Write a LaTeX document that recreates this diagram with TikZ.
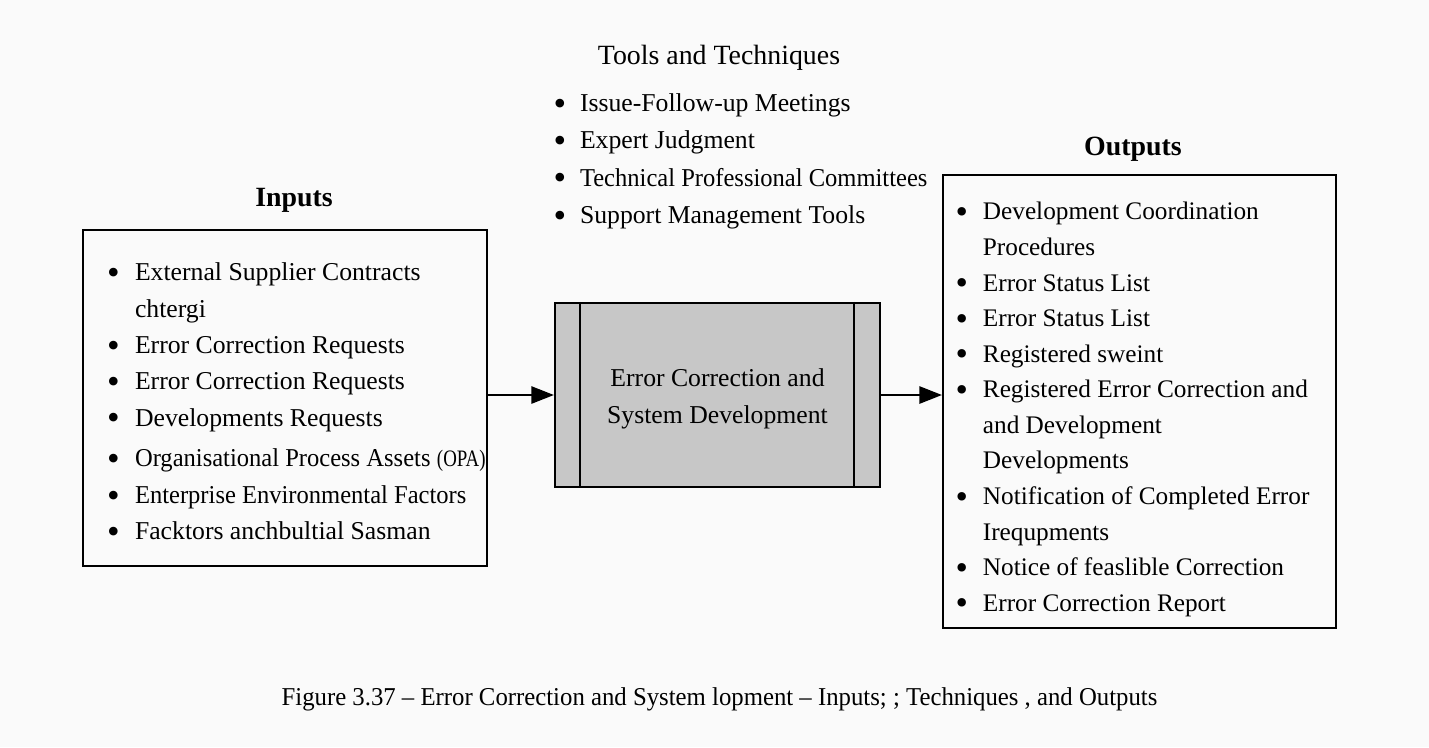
\documentclass[tikz,border=0pt]{standalone}
\usepackage{fontspec}
\usepackage{graphicx}
\setmainfont{Liberation Serif}
\newfontfamily\capfont[FakeStretch=0.963]{Liberation Serif}
\newfontfamily\narrowfont[FakeStretch=0.955]{Liberation Serif}
\newfontfamily\opafont[FakeStretch=0.8]{Liberation Serif}
\newcommand\blt{\raisebox{-1.7pt}{\scalebox{1.4}{\textbullet}}}
\usetikzlibrary{matrix,positioning,calc,arrows.meta}

\begin{document}
\begin{tikzpicture}[x=0.4667pt, y=-0.4667pt,
  itemlist/.style={matrix of nodes, inner sep=0, outer sep=0,
    anchor=north west, column sep=7.2pt, row sep=#1,
    nodes={inner sep=0, anchor=base west, text height=11pt,
      text depth=4pt, font=\fontsize{12}{14}\selectfont}},
  listbox/.style={draw, line width=1pt, inner sep=0},
  title/.style={anchor=base, font=\fontsize{13}{15}\selectfont\bfseries},
  procbox/.style={draw, line width=1pt, fill=black!22,
    minimum width=151.7pt, minimum height=85.9pt},
  flow/.style={line width=1pt, -{Triangle[length=10.5pt,width=8pt]}}]

% page
\fill[black!2] (0,0) rectangle (1429,747);

% tools and techniques
\node (tooltitle) [title, font=\fontsize{13}{15}\selectfont] at (719,64)
  {Tools and Techniques};
\matrix (toollist) [itemlist=2.4pt, column sep=6.4pt] at (553.7,88) {
  \blt & Issue-Follow-up Meetings\\
  \blt & Expert Judgment\\
  \blt & {\narrowfont Technical Professional Committees}\\
  \blt & Support Management Tools\\
};

% inputs
\node (intitle) [title] at (294,206) {Inputs};
\node (inbox) [listbox, minimum width=188.5pt, minimum height=156.8pt]
  at (285,398) {};
\matrix (inlist) [itemlist=2pt] at (107,257) {
  \blt & External Supplier Contracts\\
   & chtergi\\
  \blt & Error Correction Requests\\
  \blt & Error Correction Requests\\
  \blt & Developments Requests\\[2pt]
  \blt & {\narrowfont Organisational Process Assets}
         {\opafont\fontsize{11}{13}\selectfont(OPA)}\\
  \blt & {\narrowfont Enterprise Environmental Factors}\\
  \blt & Facktors anchbultial Sasman\\
};

% process
\node (proc) [procbox] at (717.5,395) {};
\node (proctext) [align=center, font=\fontsize{12}{17.3}\selectfont]
  at ([yshift=-1.9pt]proc.center) {Error Correction and\\System Development};
\draw[line width=1pt] ([xshift=12.1pt]proc.north west)
  -- ([xshift=12.1pt]proc.south west);
\draw[line width=1pt] ([xshift=-12.6pt]proc.north east)
  -- ([xshift=-12.6pt]proc.south east);

% outputs
\node (outtitle) [title] at (1133,155) {Outputs};
\node (outbox) [listbox, minimum width=183.4pt, minimum height=211.4pt]
  at (1139.5,401.5) {};
\matrix (outlist) [itemlist=1.6pt, column sep=6.9pt,
  nodes={font=\fontsize{11.8}{14}\selectfont}] at (955.7,196.4) {
  \blt & Development Coordination\\
   & Procedures\\
  \blt & Error Status List\\
  \blt & Error Status List\\
  \blt & Registered sweint\\
  \blt & Registered Error Correction and\\
   & and Development\\
   & Developments\\
  \blt & Notification of Completed Error\\
   & Irequpments\\
  \blt & Notice of feaslible Correction\\
  \blt & Error Correction Report\\
};

% connectors
\draw[flow] (inbox.east |- proc.west) -- (proc.west);
\draw[flow] (proc.east) -- (outbox.west |- proc.east);

% caption
\node (caption) [anchor=base, font=\capfont\fontsize{12}{14}\selectfont]
  at (719.5,705.7)
  {Figure 3.37 – Error Correction and System lopment – Inputs; ; Techniques , and Outputs};
\end{tikzpicture}
\end{document}
